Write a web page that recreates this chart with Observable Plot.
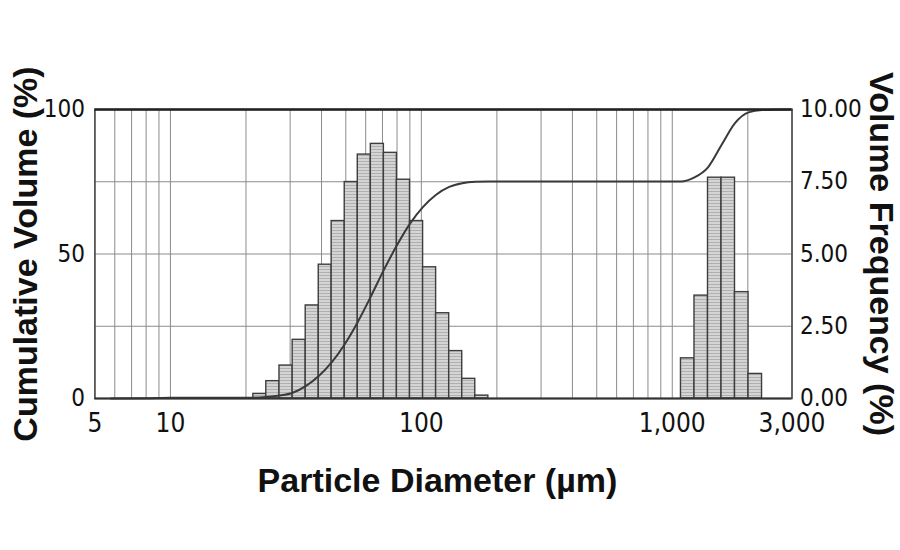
<!DOCTYPE html>
<html>
<head>
<meta charset="utf-8">
<script src="https://cdn.jsdelivr.net/npm/d3@7"></script>
<script src="https://cdn.jsdelivr.net/npm/@observablehq/plot@0.6"></script>
<style>
  html, body { margin: 0; padding: 0; background: #ffffff; }
  #chart { width: 900px; height: 550px; }
</style>
</head>
<body>
<div id="chart"></div>
<script>
// ---- Data ----
// Histogram (volume frequency, %) — bin edges in µm
const leftBinEdges = [21.4, 24.1, 27.2, 30.7, 34.6, 39.0, 43.9, 49.5, 55.8, 62.9, 70.9, 79.9, 90.1, 101.6, 114.5, 129.1, 145.5, 164.0, 184.9];
const leftFreq     = [0.16, 0.60, 1.14, 2.03, 3.22, 4.63, 6.14, 7.49, 8.44, 8.81, 8.50, 7.57, 6.14, 4.54, 2.95, 1.64, 0.68, 0.10];
const rightBinEdges = [1083, 1226, 1388, 1571, 1778, 2013, 2279];
const rightFreq     = [1.39, 3.56, 7.64, 7.64, 3.68, 0.85];

// Cumulative volume curve (%)
const cumDiameter = [5.8, 8, 10, 12, 21.4, 24.1, 27.2, 30.7, 34.6, 39.0, 43.9, 49.5, 55.8, 62.9, 70.9, 79.9, 90.1, 101.6, 114.5, 129.1, 145.5, 164.0, 184.9, 1083, 1226, 1388, 1571, 1778, 2013, 2279, 3000];
const cumPercent  = [0, 0.1, 0.3, 0.3, 0.3, 0.5, 1.0, 2.0, 4.3, 7.8, 12.5, 18.8, 26.5, 35.3, 44.5, 53.0, 60.5, 66.3, 70.5, 73.2, 74.5, 75.0, 75.1, 75.1, 76.5, 80.0, 87.7, 95.3, 99.0, 99.8, 100];

// Axes
const xTickLabels = [5, 10, 100, 1000, 3000];
const xGridTicks = [5, 6, 7, 8, 9, 10, 20, 30, 40, 50, 60, 70, 80, 90, 100, 200, 300, 400, 500, 600, 700, 800, 900, 1000, 2000, 3000];
const cumTicks = [0, 50, 100];
const freqTicks = [0, 2.5, 5, 7.5, 10];
const cumGridTicks = [25, 50, 75];

// ---- Build tables ----
const bars = [];
leftFreq.forEach((v, i) => bars.push({lo: leftBinEdges[i], hi: leftBinEdges[i + 1], freq: v}));
rightFreq.forEach((v, i) => bars.push({lo: rightBinEdges[i], hi: rightBinEdges[i + 1], freq: v}));
const cum = cumDiameter.map((d, i) => ({d, pct: cumPercent[i]}));

const tickFont = "'Liberation Sans Narrow', 'DejaVu Sans Condensed', 'Liberation Sans', sans-serif";
const titleFont = "'Liberation Sans', Arial, sans-serif";
const fmtComma = d3.format(",");

const plot = Plot.plot({
  width: 900,
  height: 550,
  marginLeft: 94.4,
  marginRight: 108.5,
  marginTop: 109,
  marginBottom: 152,
  x: {type: "log", domain: [5, 3000], axis: null},
  y: {domain: [0, 10], axis: null},
  style: {fontFamily: tickFont, fontSize: "26px", color: "#111", background: "#ffffff"},
  marks: [
    Plot.gridX(xGridTicks, {stroke: "#8c8c8c", strokeOpacity: 1, strokeWidth: 1}),
    Plot.gridY(cumGridTicks.map(d => d / 10), {stroke: "#8c8c8c", strokeOpacity: 1, strokeWidth: 1}),
    Plot.rectY(bars, {x1: "lo", x2: "hi", y1: 0, y2: "freq", fill: "url(#bartex)", stroke: "#3d3d3d", strokeWidth: 1.4}),
    Plot.line(cum, {x: "d", y: d => d.pct / 10, curve: "monotone-x", stroke: "#3a3a3a", strokeWidth: 2}),
    Plot.frame({stroke: "#444", strokeWidth: 1.5}),
    Plot.ruleY([10], {stroke: "#222", strokeWidth: 2.5}),
    Plot.ruleY([0], {stroke: "#333", strokeWidth: 1.8}),
    // x tick labels
    Plot.text(xTickLabels, {x: d => d, frameAnchor: "bottom", lineAnchor: "top", dy: 15, text: d => fmtComma(d), fontSize: 26, fill: "#111"}),
    // left (cumulative) tick labels
    Plot.axisY(cumTicks.map(d => d / 10), {anchor: "left", tickSize: 0, tickPadding: 10, tickFormat: d => String(Math.round(d * 10)), label: null, fontSize: 24, fill: "#111"}),
    // right (frequency) tick labels
    Plot.axisY(freqTicks, {anchor: "right", tickSize: 0, tickPadding: 8, tickFormat: d => d.toFixed(2), label: null, fontSize: 24, fill: "#111"}),
    // axis titles
    Plot.text(["Particle Diameter (µm)"], {frameAnchor: "bottom", dx: -6, dy: 83, textAnchor: "middle", lineAnchor: "middle", fontSize: 34, fontWeight: "bold", fontFamily: titleFont, fill: "#111"}),
    Plot.text(["Cumulative Volume (%)"], {frameAnchor: "left", dx: -69, rotate: -90, textAnchor: "middle", lineAnchor: "middle", fontSize: 34, fontWeight: "bold", fontFamily: titleFont, fill: "#111"}),
    Plot.text(["Volume Frequency (%)"], {frameAnchor: "right", dx: 89, rotate: 90, textAnchor: "middle", lineAnchor: "middle", fontSize: 34, fontWeight: "bold", fontFamily: titleFont, fill: "#111"})
  ]
});

// Texture pattern for the bars (fine horizontal stripes like the scan)
const ns = "http://www.w3.org/2000/svg";
const defs = document.createElementNS(ns, "defs");
defs.innerHTML = '<pattern id="bartex" patternUnits="userSpaceOnUse" width="4" height="3">' +
  '<rect width="4" height="3" fill="#d4d4d4"></rect>' +
  '<rect y="2" width="4" height="1" fill="#b0b0b0"></rect></pattern>';
plot.insertBefore(defs, plot.firstChild);

document.getElementById("chart").appendChild(plot);
</script>
</body>
</html>
